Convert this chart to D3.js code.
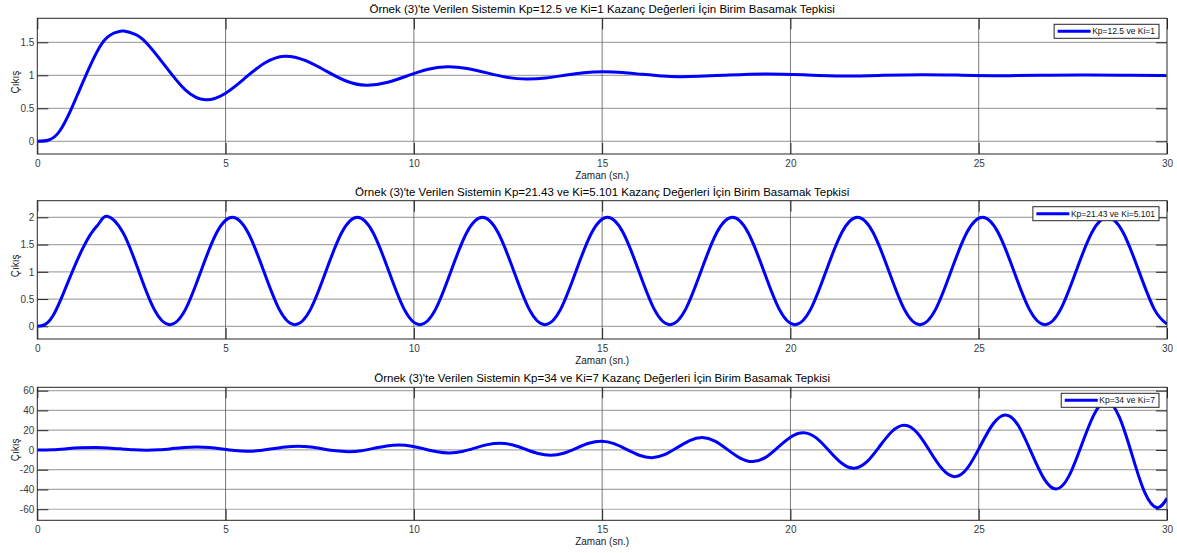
<!DOCTYPE html>
<html>
<head>
<meta charset="utf-8">
<script src="https://cdn.jsdelivr.net/npm/d3@7/dist/d3.min.js"></script>
<style>
  html, body { margin: 0; padding: 0; background: #fff; }
  svg { display: block; font-family: "Liberation Sans", Arial, Helvetica, sans-serif; }
</style>
</head>
<body>
<svg id="chart" width="1177" height="553"></svg>
<script>
// ---- Data -------------------------------------------------------------
const titles = [
  "Örnek (3)'te Verilen Sistemin Kp=12.5 ve Ki=1 Kazanç Değerleri İçin Birim Basamak Tepkisi",
  "Örnek (3)'te Verilen Sistemin Kp=21.43 ve Ki=5.101 Kazanç Değerleri İçin Birim Basamak Tepkisi",
  "Örnek (3)'te Verilen Sistemin Kp=34 ve Ki=7 Kazanç Değerleri İçin Birim Basamak Tepkisi"
];
const legendLabels = ["Kp=12.5 ve Ki=1", "Kp=21.43 ve Ki=5.101", "Kp=34 ve Ki=7"];
const xLabel = "Zaman (sn.)";
const yLabel = "Çıkış";

const xTicks = [0, 5, 10, 15, 20, 25, 30];
const xLimits = [0, 30];
const yTicks1 = [0, 0.5, 1, 1.5];
const yTicks2 = [0, 0.5, 1, 1.5, 2];
const yTicks3 = [-60, -40, -20, 0, 20, 40, 60];
const yLimits1 = [-0.192, 1.864];
const yLimits2 = [-0.233, 2.305];
const yLimits3 = [-71.2, 63.4];

// Kp=12.5, Ki=1 : damped response
const time1 = [0, 0.3, 0.6, 0.91, 1.1, 1.29, 1.5, 1.69, 1.85, 2.0, 2.15, 2.3,
  2.6, 2.9, 3.385, 3.93, 4.47, 5.0, 5.52, 6.05, 6.57, 7.11, 7.655, 8.2, 8.74,
  9.28, 9.815, 10.35, 10.89, 11.415, 11.94, 12.465, 12.99, 13.5, 14.0, 14.51,
  15.02, 15.545, 16.07, 16.6, 17.12, 18.21, 19.3, 20.35, 21.4, 22.45, 23.5,
  24.55, 25.6, 26.65, 27.7, 28.75, 29.8, 30];
const resp1 = [0, 0.02, 0.16, 0.5, 0.75, 1.0, 1.26, 1.46, 1.57, 1.63, 1.66, 1.67,
  1.62, 1.49, 1.15, 0.78, 0.63, 0.73, 0.96, 1.19, 1.29, 1.226, 1.07, 0.914, 0.85,
  0.891, 0.99, 1.089, 1.13, 1.103, 1.037, 0.971, 0.944, 0.96, 1.0, 1.039,
  1.055, 1.043, 1.015, 0.99, 0.98, 1.0, 1.02, 1.007, 0.99, 1.0, 1.01,
  1.002, 0.995, 1.0, 1.004, 1.001, 0.998, 0.999];

// Kp=21.43, Ki=5.101 : sustained oscillation
const time2 = [0, 0.2, 0.42, 0.66, 0.94, 1.2, 1.445, 1.65, 1.86,
  2.275, 2.69, 3.105, 3.52, 3.935, 4.35, 4.765, 5.18,
  5.595, 6.01, 6.425, 6.84, 7.255, 7.67, 8.085, 8.5,
  8.915, 9.33, 9.745, 10.16, 10.575, 10.99, 11.405, 11.82,
  12.235, 12.65, 13.065, 13.48, 13.895, 14.31, 14.725, 15.14,
  15.555, 15.97, 16.385, 16.8, 17.215, 17.63, 18.045, 18.46,
  18.875, 19.29, 19.705, 20.12, 20.535, 20.95, 21.365, 21.78,
  22.195, 22.61, 23.025, 23.44, 23.855, 24.27, 24.685, 25.1,
  25.515, 25.93, 26.345, 26.76, 27.175, 27.59, 28.005, 28.42,
  28.835, 29.25, 29.665, 30];
const resp2 = [0, 0.03, 0.2, 0.55, 1.02, 1.42, 1.72, 1.9, 2.02,
  1.72, 1.02, 0.31, 0.03, 0.31, 1.02, 1.72, 2.0,
  1.72, 1.02, 0.31, 0.03, 0.31, 1.02, 1.72, 2.0,
  1.72, 1.02, 0.31, 0.03, 0.31, 1.02, 1.72, 2.0,
  1.72, 1.02, 0.31, 0.03, 0.31, 1.02, 1.72, 2.0,
  1.72, 1.02, 0.31, 0.03, 0.31, 1.02, 1.72, 2.0,
  1.72, 1.02, 0.31, 0.03, 0.31, 1.02, 1.72, 2.0,
  1.72, 1.02, 0.31, 0.03, 0.31, 1.02, 1.72, 2.0,
  1.72, 1.02, 0.31, 0.03, 0.31, 1.02, 1.72, 2.0,
  1.72, 1.02, 0.31, 0.04];

// Kp=34, Ki=7 : growing oscillation
const time3 = [0, 0.4, 0.78, 1.15, 1.55,
  1.89, 2.225, 2.56, 2.9, 3.235, 3.57, 3.905, 4.24,
  4.575, 4.91, 5.245, 5.58, 5.915, 6.25, 6.585, 6.92,
  7.26, 7.595, 7.93, 8.27, 8.605, 8.94, 9.275, 9.61,
  9.945, 10.28, 10.615, 10.95, 11.285, 11.62, 11.955, 12.29,
  12.63, 12.965, 13.3, 13.64, 13.975, 14.31, 14.645, 14.98,
  15.315, 15.65, 15.985, 16.32, 16.655, 16.99, 17.325, 17.66,
  17.995, 18.33, 18.665, 19.0, 19.34, 19.675, 20.01, 20.35,
  20.685, 21.02, 21.355, 21.69, 22.025, 22.36, 22.695, 23.03,
  23.365, 23.7, 24.035, 24.37, 24.71, 25.045, 25.38, 25.72,
  26.055, 26.39, 26.725, 27.06, 27.395, 27.73, 28.065, 28.4,
  28.735, 29.07, 29.405, 29.74, 30];
const resp3 = [0, 0.25, 1.2, 2.1, 2.5,
  2.09, 1.1, 0.11, -0.3, 0.18, 1.35, 2.52, 3.0,
  2.37, 0.85, -0.67, -1.3, -0.57, 1.2, 2.97, 3.7,
  2.91, 1.0, -0.91, -1.7, -0.72, 1.65, 4.02, 5.0,
  3.83, 1.0, -1.83, -3.0, -1.57, 1.9, 5.37, 6.8,
  5.01, 0.7, -3.61, -5.4, -3.32, 1.7, 6.72, 8.8,
  6.37, 0.5, -5.37, -7.8, -4.83, 2.35, 9.53, 12.5,
  8.94, 0.35, -8.24, -11.8, -7.51, 2.85, 13.21, 17.5,
  12.23, -0.5, -13.23, -18.5, -12.13, 3.25, 18.63, 25.0,
  17.39, -1.0, -19.39, -27.0, -17.86, 4.2, 26.26, 35.4,
  24.43, -2.05, -28.53, -39.5, -26.54, 4.75, 36.04, 49.0,
  33.28, -4.7, -42.68, -58.4, -49.0];

// ---- Layout -----------------------------------------------------------
const plotLeft = 37.3, plotRight = 1167;
const panelBoxes = [
  { top: 18.3, bottom: 154 },
  { top: 200.7, bottom: 339 },
  { top: 387.3, bottom: 520.3 }
];
const panels = [
  { title: titles[0], legend: legendLabels[0], t: time1, y: resp1, yTicks: yTicks1, yLim: yLimits1 },
  { title: titles[1], legend: legendLabels[1], t: time2, y: resp2, yTicks: yTicks2, yLim: yLimits2 },
  { title: titles[2], legend: legendLabels[2], t: time3, y: resp3, yTicks: yTicks3, yLim: yLimits3 }
];

const svg = d3.select("#chart");
const axisColor = "#262626";
const tickLen = 11;

panels.forEach((p, i) => {
  const box = panelBoxes[i];
  const x = d3.scaleLinear().domain(xLimits).range([plotLeft, plotRight]);
  const y = d3.scaleLinear().domain(p.yLim).range([box.bottom, box.top]);
  const g = svg.append("g");

  // plot background
  g.append("rect")
    .attr("x", plotLeft).attr("y", box.top)
    .attr("width", plotRight - plotLeft).attr("height", box.bottom - box.top)
    .attr("fill", "#fff");

  // grid
  g.append("g").selectAll("line").data(p.yTicks).join("line")
    .attr("x1", plotLeft).attr("x2", plotRight)
    .attr("y1", d => y(d)).attr("y2", d => y(d))
    .attr("stroke", "#a8a8a8").attr("stroke-width", 1.2);
  g.append("g").selectAll("line").data(xTicks.slice(1, -1)).join("line")
    .attr("x1", d => x(d)).attr("x2", d => x(d))
    .attr("y1", box.top).attr("y2", box.bottom)
    .attr("stroke", "#555").attr("stroke-width", 0.8);

  // axes with inward ticks on all four sides
  const styleAxis = sel => {
    sel.select(".domain").remove();
    sel.selectAll(".tick line").attr("stroke", axisColor).attr("stroke-width", 1);
    sel.selectAll(".tick text").attr("fill", "#3a3a3a").style("font-size", "10px");
  };
  g.append("g").attr("transform", `translate(0,${box.bottom})`)
    .call(d3.axisBottom(x).tickValues(xTicks).tickSize(-tickLen).tickPadding(5.5).tickFormat(d => d))
    .call(styleAxis);
  g.append("g").attr("transform", `translate(0,${box.top})`)
    .call(d3.axisTop(x).tickValues(xTicks).tickSize(-tickLen).tickFormat(""))
    .call(styleAxis);
  g.append("g").attr("transform", `translate(${plotLeft},0)`)
    .call(d3.axisLeft(y).tickValues(p.yTicks).tickSize(-tickLen).tickPadding(3).tickFormat(d => d))
    .call(styleAxis);
  g.append("g").attr("transform", `translate(${plotRight},0)`)
    .call(d3.axisRight(y).tickValues(p.yTicks).tickSize(-tickLen).tickFormat(""))
    .call(styleAxis);

  // response curve
  const clipId = "clip" + i;
  svg.append("clipPath").attr("id", clipId).append("rect")
    .attr("x", plotLeft).attr("y", box.top)
    .attr("width", plotRight - plotLeft).attr("height", box.bottom - box.top);
  const pts = p.t.map((t, k) => [t, p.y[k]]);
  const line = d3.line().x(d => x(d[0])).y(d => y(d[1])).curve(d3.curveNatural);
  g.append("path").datum(pts)
    .attr("clip-path", `url(#${clipId})`)
    .attr("d", line)
    .attr("fill", "none").attr("stroke", "#0000ff")
    .attr("stroke-width", 3).attr("stroke-linejoin", "round");

  // frame
  g.append("rect")
    .attr("x", plotLeft).attr("y", box.top)
    .attr("width", plotRight - plotLeft).attr("height", box.bottom - box.top)
    .attr("fill", "none").attr("stroke", axisColor).attr("stroke-width", 1);

  // title and axis labels
  g.append("text")
    .attr("x", (plotLeft + plotRight) / 2).attr("y", box.top - 5)
    .attr("text-anchor", "middle").style("font-size", "11.5px").attr("fill", "#000")
    .text(p.title);
  g.append("text")
    .attr("x", (plotLeft + plotRight) / 2).attr("y", box.bottom + 25)
    .attr("text-anchor", "middle").style("font-size", "10px").attr("fill", "#1a1a1a")
    .text(xLabel);
  g.append("text")
    .attr("transform", `translate(19,${(box.top + box.bottom) / 2 - 4}) rotate(-90)`)
    .attr("text-anchor", "middle").style("font-size", "10px").attr("fill", "#1a1a1a")
    .text(yLabel);

  // legend
  const lg = g.append("g");
  const lgText = lg.append("text").style("font-size", "8.5px").attr("fill", "#111").text(p.legend);
  const tw = lgText.node().getComputedTextLength();
  const lineLen = 33, padL = 3.5, padR = 4, boxH = 14;
  const boxW = padL + lineLen + 1.5 + tw + padR;
  const bx = plotRight - 8 - boxW, by = box.top + 6;
  lg.insert("rect", "text")
    .attr("x", bx).attr("y", by).attr("width", boxW).attr("height", boxH)
    .attr("fill", "#fff").attr("stroke", axisColor).attr("stroke-width", 1);
  lg.insert("line", "text")
    .attr("x1", bx + padL).attr("x2", bx + padL + lineLen)
    .attr("y1", by + boxH / 2).attr("y2", by + boxH / 2)
    .attr("stroke", "#0000ff").attr("stroke-width", 3);
  lgText.attr("x", bx + padL + lineLen + 1.5).attr("y", by + boxH / 2 + 3);
});
</script>
</body>
</html>
